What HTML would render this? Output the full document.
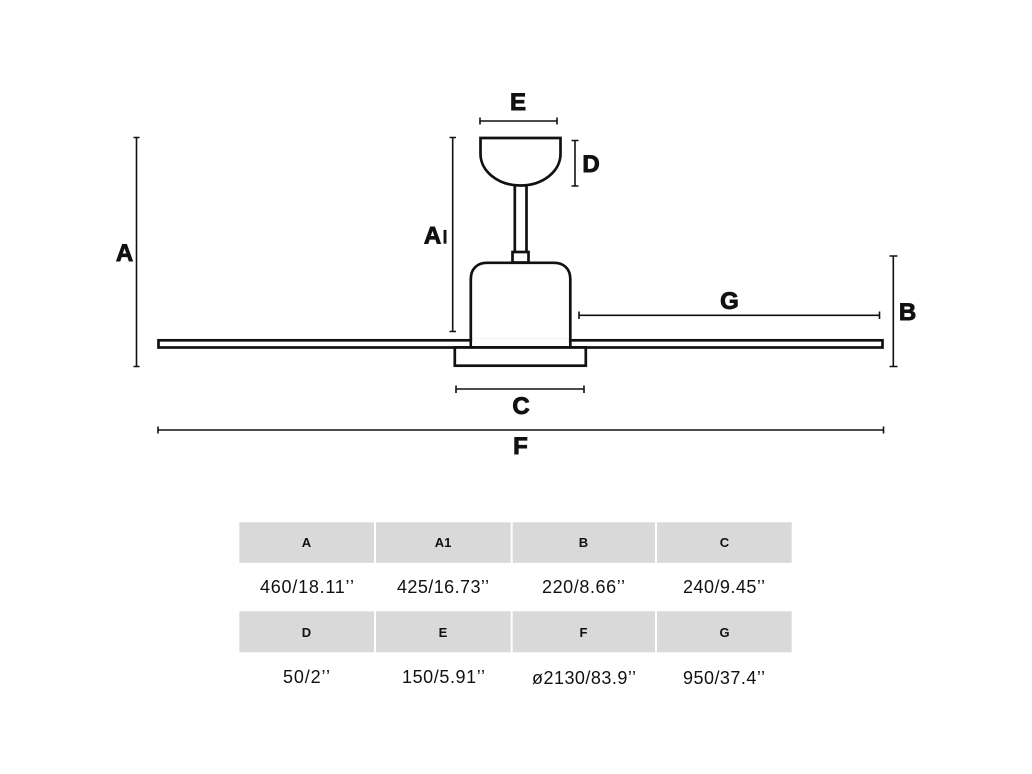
<!DOCTYPE html>
<html>
<head>
<meta charset="utf-8">
<style>
html,body{margin:0;padding:0;background:#fff;width:1032px;height:774px;overflow:hidden}
svg{display:block}
.l{font-family:"Liberation Sans",sans-serif;font-weight:bold;font-size:24px;fill:#111;stroke:#111;stroke-width:.9px;text-anchor:middle}
.h{font-family:"Liberation Sans",sans-serif;font-weight:bold;font-size:13px;fill:#111;text-anchor:middle}
.v{font-family:"Liberation Sans",sans-serif;font-size:18px;fill:#111}
</style>
</head>
<body>
<svg width="1032" height="774" viewBox="0 0 1032 774" xmlns="http://www.w3.org/2000/svg">
<g fill="none" stroke="#111" stroke-width="2.700">
  <path d="M480.500 138H560.500V154A40 31.500 0 0 1 480.500 154Z" fill="#fff"/>
  <path d="M514.800 186V252M526.500 186V252"/>
  <rect x="512.500" y="252" width="16" height="10.500" fill="#fff"/>
  <path d="M470.800 347V279C470.800 269 477 262.800 487 262.800H554C564 262.800 570.300 269 570.300 279V347" fill="#fff"/>
  <rect x="158.500" y="340.300" width="724" height="7.200"/>
  <rect x="472.200" y="339" width="96.700" height="7" fill="#fff" stroke="none"/>
  <path d="M454 347.500H587"/>
  <rect x="454.800" y="347.500" width="131" height="18.200" fill="#fff"/>
</g>
<g fill="none" stroke="#111" stroke-width="1.600">
  <path d="M136.500 137V366.500M133.500 137.500H139.500M133.500 366.500H139.500"/>
  <path d="M452.700 137.500V332M449.500 137.500H456M449.500 331.500H456"/>
  <path d="M480 121H557M480 117.500V124.500M557 117.500V124.500"/>
  <path d="M575 140.500V186M571.500 140.500H578.500M571.500 186H578.500"/>
  <path d="M456 389H584M456 385.500V393M584 385.500V393"/>
  <path d="M579 315.300H879.500M579 311.500V319M879.500 311.500V319"/>
  <path d="M893.300 256V366.500M889.500 256H897.500M889.500 366.500H897.500"/>
  <path d="M158 430H883.500M158 426.500V433.500M883.500 426.500V433.500"/>
</g>
<text class="l" x="124.500" y="261">A</text>
<text class="l" x="432.500" y="243.500">A</text>
<text class="l" x="445" y="243.500" style="font-size:19px;stroke-width:.3px">I</text>
<text class="l" x="518" y="110">E</text>
<text class="l" x="591" y="172">D</text>
<text class="l" x="521" y="414">C</text>
<text class="l" x="729.500" y="309">G</text>
<text class="l" x="907.500" y="320">B</text>
<text class="l" x="520.500" y="454">F</text>
<g fill="#d9d9d9">
  <rect x="239.300" y="522.300" width="134.700" height="40.500"/>
  <rect x="376" y="522.300" width="134.700" height="40.500"/>
  <rect x="512.700" y="522.300" width="142.300" height="40.500"/>
  <rect x="657" y="522.300" width="134.700" height="40.500"/>
  <rect x="239.300" y="611.300" width="134.700" height="41"/>
  <rect x="376" y="611.300" width="134.700" height="41"/>
  <rect x="512.700" y="611.300" width="142.300" height="41"/>
  <rect x="657" y="611.300" width="134.700" height="41"/>
</g>
<text class="h" x="306.500" y="547">A</text>
<text class="h" x="443" y="547">A1</text>
<text class="h" x="583.500" y="547">B</text>
<text class="h" x="724.500" y="547">C</text>
<text class="h" x="306.500" y="637">D</text>
<text class="h" x="443" y="637">E</text>
<text class="h" x="583.500" y="637">F</text>
<text class="h" x="724.500" y="637">G</text>
<text class="v" x="260" y="593" textLength="94" lengthAdjust="spacing">460/18.11’’</text>
<text class="v" x="397" y="593" textLength="92" lengthAdjust="spacing">425/16.73’’</text>
<text class="v" x="542" y="593" textLength="83" lengthAdjust="spacing">220/8.66’’</text>
<text class="v" x="683" y="593" textLength="82" lengthAdjust="spacing">240/9.45’’</text>
<text class="v" x="283" y="683" textLength="47" lengthAdjust="spacing">50/2’’</text>
<text class="v" x="402" y="683" textLength="83" lengthAdjust="spacing">150/5.91’’</text>
<text class="v" x="532" y="684" textLength="104" lengthAdjust="spacing">ø2130/83.9’’</text>
<text class="v" x="683" y="684" textLength="82" lengthAdjust="spacing">950/37.4’’</text>
</svg>
</body>
</html>
